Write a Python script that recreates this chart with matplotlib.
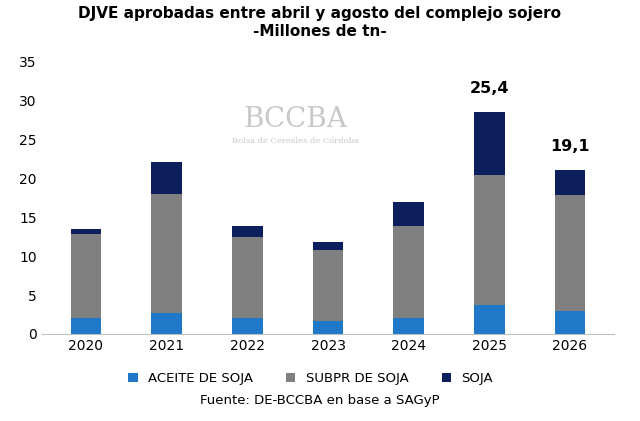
import matplotlib.pyplot as plt
import numpy as np

years = ["2020", "2021", "2022", "2023", "2024", "2025", "2026"]
aceite = [2.1, 2.7, 2.1, 1.7, 2.1, 3.7, 3.0]
subpr = [10.8, 15.3, 10.3, 9.1, 11.8, 16.8, 14.9]
soja = [0.6, 4.1, 1.5, 1.0, 3.1, 8.1, 3.2]
labels = {5: "25,4", 6: "19,1"}

fig, ax = plt.subplots(figsize=(6.4, 4.21), dpi=100)
fig.subplots_adjust(left=0.065, right=0.96, top=0.853, bottom=0.207)
x = np.arange(len(years))
w = 0.38
b1 = np.array(aceite)
b2 = b1 + np.array(subpr)
ax.bar(x, aceite, w, color="#1f78c8", label="ACEITE DE SOJA")
ax.bar(x, subpr, w, bottom=b1, color="#808080", label="SUBPR DE SOJA")
ax.bar(x, soja, w, bottom=b2, color="#0c1f5c", label="SOJA")
tot = b2 + np.array(soja)
for i, t in labels.items():
    ax.text(x[i], tot[i] + 2.0, t, ha="center", va="bottom", fontsize=11.5, fontweight="bold")

ax.set_ylim(0, 35)
ax.set_yticks(range(0, 36, 5))
ax.set_xticks(x)
ax.set_xticklabels(years)
ax.tick_params(labelsize=10, length=0)
ax.set_xlim(-0.55, 6.55)
for s in ["top", "right", "left"]:
    ax.spines[s].set_visible(False)
ax.spines["bottom"].set_color("#bfbfbf")

ax.text(2.6, 27.6, "BCCBA", fontsize=20, color="#c8c8c8", family="serif", ha="center", va="center")
ax.text(2.6, 24.8, "Bolsa de Cereales de Córdoba", fontsize=6, color="#c8c8c8", family="serif", ha="center", va="center")

fig.suptitle("DJVE aprobadas entre abril y agosto del complejo sojero\n-Millones de tn-",
             fontsize=11, fontweight="bold", y=0.985)
ax.legend(loc="center", bbox_to_anchor=(0.47, -0.165), ncol=3, frameon=False,
          fontsize=9.5, handlelength=0.7, handleheight=0.7, columnspacing=2.5)
fig.text(0.5, 0.04, "Fuente: DE-BCCBA en base a SAGyP", ha="center", fontsize=9.5)
fig.savefig("out.png")
